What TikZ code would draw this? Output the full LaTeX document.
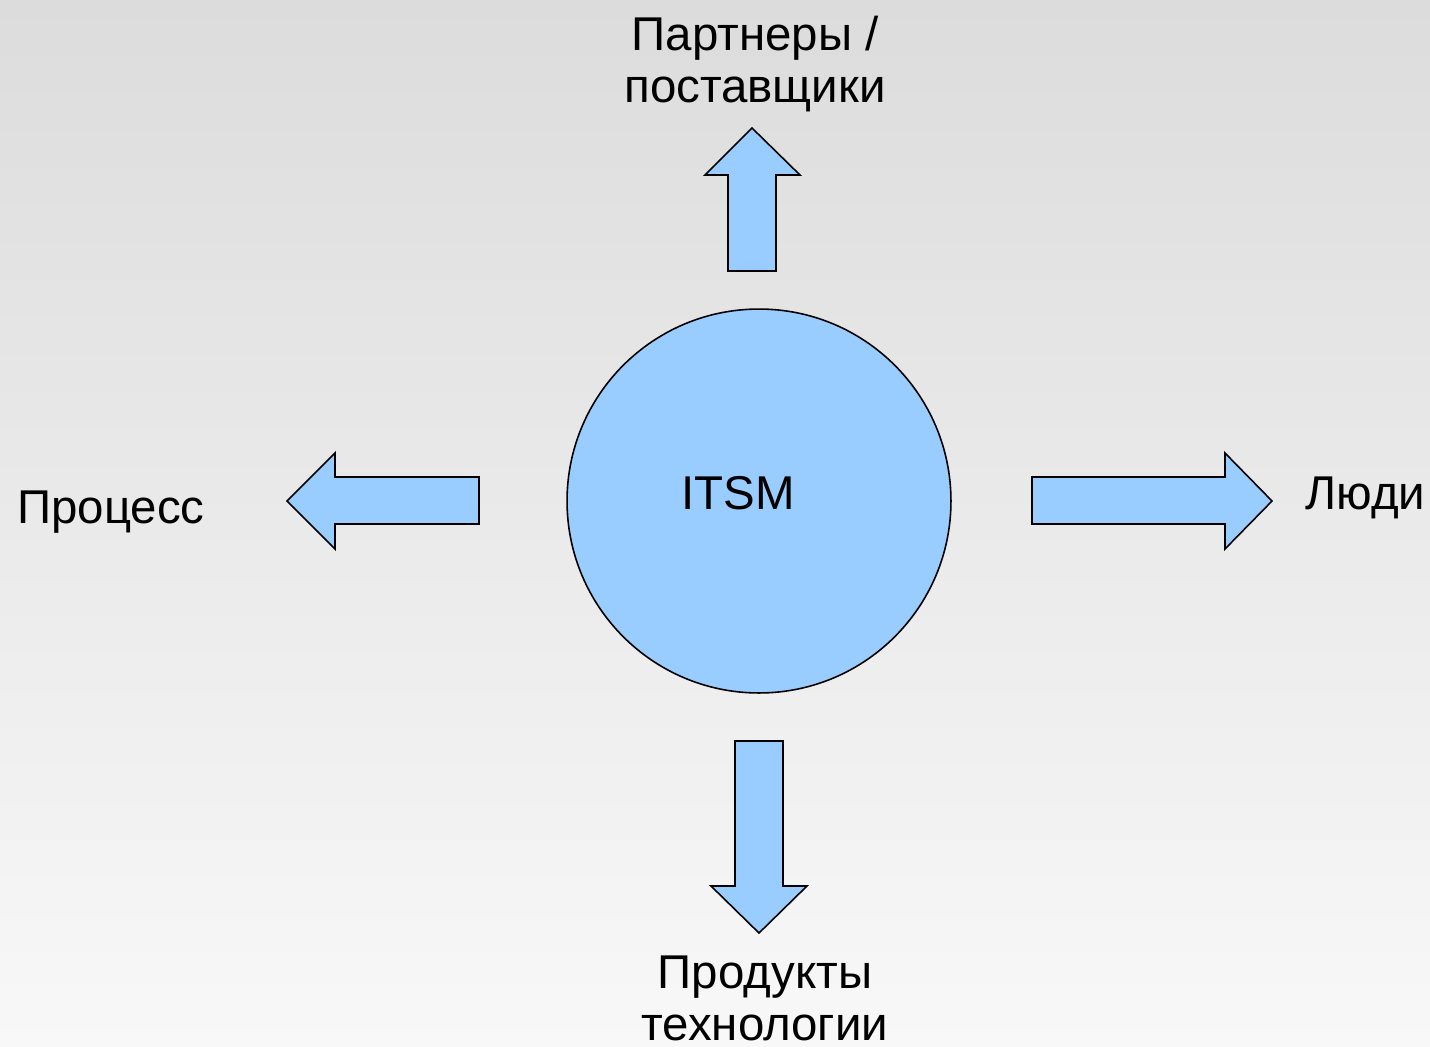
\documentclass[tikz,border=0pt]{standalone}
\usepackage{fontspec}
\setmainfont{Liberation Sans}
\usetikzlibrary{positioning}
\definecolor{itsmblue}{HTML}{99CCFF}
\definecolor{bgtop}{HTML}{DCDCDC}
\definecolor{bgbot}{HTML}{F8F8F8}
\tikzset{
  hub/.style={circle, draw=black, fill=itsmblue, line width=0.9pt,
              minimum size=7.68cm, inner sep=0pt},
  blockarr/.style={draw=black, fill=itsmblue, line width=0.9pt, line join=miter},
  lbl/.style={font=\fontsize{27}{29.6}\selectfont, inner sep=0pt, align=center},
}

\begin{document}
\begin{tikzpicture}[x=0.02cm, y=-0.02cm]
  \useasboundingbox (0,0) rectangle (1430,1046);
  \shade[top color=bgtop, bottom color=bgbot] (0,0) rectangle (1430,1046);

  \node[hub] (itsm) at (759,501) {};
  \node[lbl, anchor=base] (itsmtxt) at (738,509) {ITSM};

  % block arrows
  \draw[blockarr] (728,271) -- (728,175) -- (705,175) -- (752,128)
    -- (800,175) -- (776,175) -- (776,271) -- cycle;
  \draw[blockarr] (735,741) -- (783,741) -- (783,886) -- (807,886)
    -- (759,933) -- (711,886) -- (735,886) -- cycle;
  \draw[blockarr] (479,477) -- (335,477) -- (335,453) -- (287,501)
    -- (335,549) -- (335,524) -- (479,524) -- cycle;
  \draw[blockarr] (1032,477) -- (1225,477) -- (1225,453) -- (1272,501)
    -- (1225,549) -- (1225,524) -- (1032,524) -- cycle;

  % labels (base = last line)
  \node[lbl, anchor=base] (partners) at (755,102) {Партнеры /\\поставщики};
  \node[lbl, anchor=base west] (process) at (17,523) {Процесс};
  \node[lbl, anchor=base west] (people) at (1305,509) {Люди};
  \node[lbl, anchor=base] (products) at (765,1040) {Продукты\\технологии};
\end{tikzpicture}
\end{document}
